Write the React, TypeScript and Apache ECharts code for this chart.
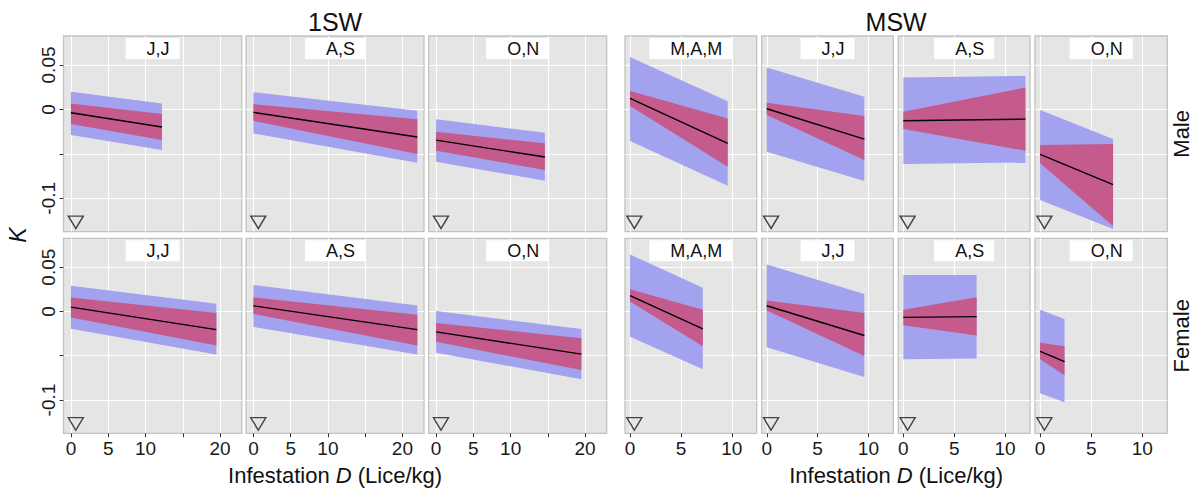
import { useEffect, useRef } from "react";
import * as echarts from "echarts";

// ---------- data ----------
const groupTitles = ["1SW", "MSW"];
const rowLabels = ["Male", "Female"];
const facetLabels = ["J,J", "A,S", "O,N", "M,A,M", "J,J", "A,S", "O,N"];
const facetGroup = [0, 0, 0, 1, 1, 1, 1];

const xRange1SW = [-1.0, 22.9];
const xRangeMSW = [-0.5, 12.45];
const yRange = [-0.1376, 0.0826];
const xTicks1SW = [0, 5, 10, 15, 20];
const xLabels1SW = [0, 5, 10, 20];
const xTicksMSW = [0, 5, 10];
const xLabelsMSW = [0, 5, 10];
const yTicks = [-0.1, -0.05, 0, 0.05];
const yLabels = [-0.1, 0, 0.05];

// marker (open triangle) position per group
const markerX = [0.65, 0.42];
const markerY = -0.127;

// Male row: [value at D=0, value at D=max]
const maleXMax = [12.2, 22.0, 14.6, 9.6, 9.6, 12.0, 7.14];
const maleFit = [[-0.0038, -0.0198], [-0.0034, -0.0311], [-0.0345, -0.0536], [0.0124, -0.0382], [0.0007, -0.0334], [-0.0128, -0.0109], [-0.0506, -0.0847]];
const maleRedHi = [[0.0067, -0.0053], [0.006, -0.0112], [-0.0252, -0.0382], [0.0206, -0.0101], [0.0074, -0.0075], [-0.0027, 0.0247], [-0.0401, -0.039]];
const maleRedLo = [[-0.0165, -0.0345], [-0.0128, -0.0502], [-0.0465, -0.0682], [0.0037, -0.0645], [-0.0064, -0.057], [-0.0221, -0.0465], [-0.0607, -0.1312]];
const maleBlueHi = [[0.0198, 0.0067], [0.0194, -0.0016], [-0.0112, -0.0263], [0.0591, 0.0093], [0.0472, 0.0142], [0.036, 0.0378], [-0.0008, -0.0334]];
const maleBlueLo = [[-0.0289, -0.0457], [-0.027, -0.06], [-0.0589, -0.0803], [-0.0356, -0.0859], [-0.0477, -0.0806], [-0.0615, -0.0596], [-0.1019, -0.1345]];

// Female row
const femaleXMax = [19.5, 22.0, 19.5, 7.15, 9.6, 7.2, 2.39];
const femaleFit = [[0.0049, -0.0205], [0.0064, -0.0205], [-0.0231, -0.0482], [0.0179, -0.0197], [0.0064, -0.0272], [-0.0067, -0.0059], [-0.0451, -0.0567]];
const femaleRedHi = [[0.0157, -0.0018], [0.0157, -0.0037], [-0.013, -0.0302], [0.0251, 0.0019], [0.0123, -0.0018], [0.0019, 0.0161], [-0.0354, -0.0392]];
const femaleRedLo = [[-0.0067, -0.0385], [-0.0029, -0.0384], [-0.0343, -0.0661], [0.0112, -0.0392], [0.0011, -0.0504], [-0.0157, -0.0272], [-0.0541, -0.072]];
const femaleBlueHi = [[0.0289, 0.0087], [0.0299, 0.0067], [0.0004, -0.0197], [0.0643, 0.0269], [0.0531, 0.0198], [0.0411, 0.0411], [0.0019, -0.0085]];
const femaleBlueLo = [[-0.0194, -0.0486], [-0.0175, -0.0485], [-0.0466, -0.0765], [-0.0287, -0.0653], [-0.0403, -0.0739], [-0.0541, -0.053], [-0.0925, -0.1026]];

// ---------- layout / style ----------
const FONT = '"Liberation Sans", Arial, Helvetica, sans-serif';
const colLeft = [63.5, 246, 428.7, 625, 761.7, 898.3, 1035];
const colWidth = [178.2, 178, 178, 131.7, 131.6, 131.7, 132.3];
const rowTop = [36, 238.3];
const rowHeight = [195.7, 195];
const BG = "#e5e5e5";
const BLUE = "#a2a2ef";
const RED = "#c55b8c";

const rows = [
  { xMax: maleXMax, fit: maleFit, redHi: maleRedHi, redLo: maleRedLo, blueHi: maleBlueHi, blueLo: maleBlueLo },
  { xMax: femaleXMax, fit: femaleFit, redHi: femaleRedHi, redLo: femaleRedLo, blueHi: femaleBlueHi, blueLo: femaleBlueLo },
];

function bandSeries(idx: number, item: number[], color: string) {
  return {
    type: "custom",
    xAxisIndex: idx,
    yAxisIndex: idx,
    silent: true,
    encode: { x: [0, 1], y: [2, 3, 4, 5] },
    data: [item],
    renderItem: (_params: any, api: any) => {
      const x0 = api.value(0);
      const x1 = api.value(1);
      const pts = [
        api.coord([x0, api.value(2)]),
        api.coord([x1, api.value(3)]),
        api.coord([x1, api.value(5)]),
        api.coord([x0, api.value(4)]),
      ];
      return { type: "polygon", shape: { points: pts }, style: { fill: color } };
    },
  };
}

function buildOption() {
  const grid: any[] = [];
  const xAxis: any[] = [];
  const yAxis: any[] = [];
  const series: any[] = [];
  const graphic: any[] = [];

  for (let r = 0; r < 2; r++) {
    for (let c = 0; c < 7; c++) {
      const idx = r * 7 + c;
      const g = facetGroup[c];
      grid.push({
        left: colLeft[c],
        top: rowTop[r],
        width: colWidth[c],
        height: rowHeight[r],
        show: true,
        backgroundColor: BG,
        borderColor: "#c2c2c2",
        borderWidth: 1.3,
        containLabel: false,
        outerBoundsMode: "none",
      });
      const xr = g === 0 ? xRange1SW : xRangeMSW;
      xAxis.push({
        type: "value",
        gridIndex: idx,
        position: "bottom",
        min: xr[0],
        max: xr[1],
        axisLine: { show: false, onZero: false },
        axisTick: {
          show: r === 1,
          length: 4,
          customValues: g === 0 ? xTicks1SW : xTicksMSW,
          lineStyle: { color: "#333", width: 1 },
        },
        axisLabel: {
          show: r === 1,
          customValues: g === 0 ? xLabels1SW : xLabelsMSW,
          margin: 6,
          fontSize: 19,
          fontFamily: FONT,
          color: "#1a1a1a",
        },
        splitLine: { show: true, lineStyle: { color: "#ffffff", width: 1.1 } },
      });
      yAxis.push({
        type: "value",
        gridIndex: idx,
        position: "left",
        min: yRange[0],
        max: yRange[1],
        axisLine: { show: false, onZero: false },
        axisTick: {
          show: c === 0,
          length: 4,
          customValues: yTicks,
          lineStyle: { color: "#333", width: 1 },
        },
        axisLabel: {
          show: c === 0,
          customValues: yLabels,
          rotate: 90,
          margin: 6,
          fontSize: 19,
          fontFamily: FONT,
          color: "#1a1a1a",
        },
        splitLine: { show: true, lineStyle: { color: "#ffffff", width: 1.1 } },
      });

      const d = rows[r];
      const xm = d.xMax[c];
      series.push(bandSeries(idx, [0, xm, d.blueLo[c][0], d.blueLo[c][1], d.blueHi[c][0], d.blueHi[c][1]], BLUE));
      series.push(bandSeries(idx, [0, xm, d.redLo[c][0], d.redLo[c][1], d.redHi[c][0], d.redHi[c][1]], RED));
      series.push({
        type: "line",
        xAxisIndex: idx,
        yAxisIndex: idx,
        silent: true,
        showSymbol: false,
        symbol: "none",
        lineStyle: { color: "#000", width: 1.4 },
        data: [
          [0, d.fit[c][0]],
          [xm, d.fit[c][1]],
        ],
      });
      series.push({
        type: "scatter",
        xAxisIndex: idx,
        yAxisIndex: idx,
        silent: true,
        symbol: "triangle",
        symbolRotate: 180,
        symbolSize: [15, 12.5],
        itemStyle: { color: "rgba(0,0,0,0)", borderColor: "#1a1a1a", borderWidth: 1.4 },
        data: [[markerX[g], markerY]],
      });

      // facet strip label
      graphic.push({
        type: "text",
        x: colLeft[c] + colWidth[c] / 2,
        y: rowTop[r] + 2,
        z: 100,
        style: {
          text: facetLabels[c],
          align: "center",
          verticalAlign: "top",
          fontSize: 18,
          fontFamily: FONT,
          fill: "#111",
          backgroundColor: "#ffffff",
          padding: [1.5, 10, 1.5, 21],
        },
      });
    }
  }

  // group titles
  const groupCenters = [
    (colLeft[0] + colLeft[2] + colWidth[2]) / 2,
    (colLeft[3] + colLeft[6] + colWidth[6]) / 2,
  ];
  for (let g = 0; g < 2; g++) {
    graphic.push({
      type: "text",
      x: groupCenters[g],
      y: 22,
      style: {
        text: groupTitles[g],
        align: "center",
        verticalAlign: "middle",
        fontSize: 25,
        fontFamily: FONT,
        fill: "#111",
      },
    });
    graphic.push({
      type: "text",
      x: groupCenters[g],
      y: 475,
      style: {
        text: "Infestation {i|D} (Lice/kg)",
        align: "center",
        verticalAlign: "middle",
        fontSize: 22,
        fontFamily: FONT,
        fill: "#111",
        rich: { i: { fontStyle: "italic", fontSize: 22, fontFamily: FONT, fill: "#111" } },
      },
    });
  }
  // row labels
  for (let r = 0; r < 2; r++) {
    graphic.push({
      type: "text",
      x: 1181,
      y: rowTop[r] + rowHeight[r] / 2,
      rotation: Math.PI / 2,
      style: {
        text: rowLabels[r],
        align: "center",
        verticalAlign: "middle",
        fontSize: 22,
        fontFamily: FONT,
        fill: "#111",
      },
    });
  }
  // y axis title
  graphic.push({
    type: "text",
    x: 18,
    y: 235,
    rotation: Math.PI / 2,
    style: {
      text: "K",
      align: "center",
      verticalAlign: "middle",
      fontSize: 23,
      fontStyle: "italic",
      fontFamily: FONT,
      fill: "#111",
    },
  });

  return {
    animation: false,
    backgroundColor: "#ffffff",
    grid,
    xAxis,
    yAxis,
    series,
    graphic,
  };
}

export default function App() {
  const ref = useRef<HTMLDivElement>(null);
  useEffect(() => {
    if (!ref.current) return;
    const chart = echarts.init(ref.current, undefined, { renderer: "svg" });
    chart.setOption(buildOption() as any);
    return () => chart.dispose();
  }, []);
  return (
    <div
      ref={ref}
      style={{ position: "fixed", left: 0, top: 0, width: 1198, height: 492 }}
    />
  );
}
